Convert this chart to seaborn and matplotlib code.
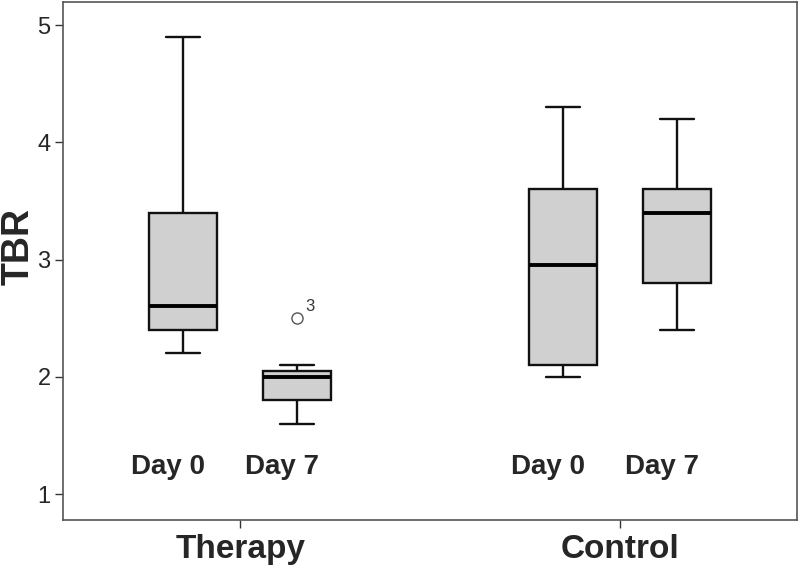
import pandas as pd
import numpy as np
import seaborn as sns
import matplotlib.pyplot as plt

# values (five-number style samples per box)
groups = ["Therapy", "Control"]
days = ["Day 0", "Day 7"]
therapy_day0 = [2.2, 2.4, 2.6, 3.4, 4.9]
therapy_day7 = [1.6, 1.7, 1.8, 1.9, 2.0, 2.02, 2.05, 2.1, 2.5]
control_day0 = [2.0, 2.1, 2.95, 3.6, 4.3]
control_day7 = [2.4, 2.8, 3.4, 3.6, 4.2]
outlier_case = "3"

rows = []
for g, d, vals in [("Therapy", "Day 0", therapy_day0), ("Therapy", "Day 7", therapy_day7),
                   ("Control", "Day 0", control_day0), ("Control", "Day 7", control_day7)]:
    for v in vals:
        rows.append({"group": g, "day": d, "TBR": v})
data = pd.DataFrame(rows)

sns.set_style("white")
plt.rcParams['font.family'] = ['Liberation Sans', 'DejaVu Sans']

fig = plt.figure(figsize=(8, 5.7), dpi=100)
ax = fig.add_axes([0.079, 0.088, 0.917, 0.909])

sns.boxplot(data=data, x="group", y="TBR", hue="day", order=groups, hue_order=days,
            palette=["#d0d0d0", "#d0d0d0"], width=0.6, gap=0.4, whis=1.6,
            linecolor="#111111", linewidth=1.7, legend=False, ax=ax,
            medianprops=dict(color="black", linewidth=2.8),
            flierprops=dict(marker="o", markerfacecolor="white", markeredgecolor="#555555",
                            markersize=8, markeredgewidth=1.0))

# outlier case label
out_val = max(therapy_day7)
ax.annotate(outlier_case, xy=(0.15, out_val), xytext=(6, 3), textcoords="offset points",
            fontsize=12, color="#333333", ha="left", va="bottom")

# day labels inside plot
for gi, g in enumerate(groups):
    for di, d in enumerate(days):
        ax.text(gi + (di - 0.5) * 0.3 - 0.04, 1.23, d, ha="center", va="center",
                fontsize=20, fontweight="bold")

ax.set_xlim(-0.466, 1.466)
ax.set_ylim(0.78, 5.2)
ax.set_yticks([1, 2, 3, 4, 5])
ax.set_xticks([0, 1])
ax.set_xticklabels(groups, fontsize=24, fontweight="bold")
ax.tick_params(axis="y", labelsize=17, length=6, width=1, color="#333333", left=True, pad=3)
ax.tick_params(axis="x", length=6, width=1, color="#333333", bottom=True, pad=4)
ax.set_xlabel("")
ax.set_ylabel("TBR", fontsize=27, fontweight="bold")
ax.yaxis.set_label_coords(-0.036, 0.527)
for s in ax.spines.values():
    s.set_color("#555555")
    s.set_linewidth(1.2)

fig.savefig("out.png", dpi=100)
